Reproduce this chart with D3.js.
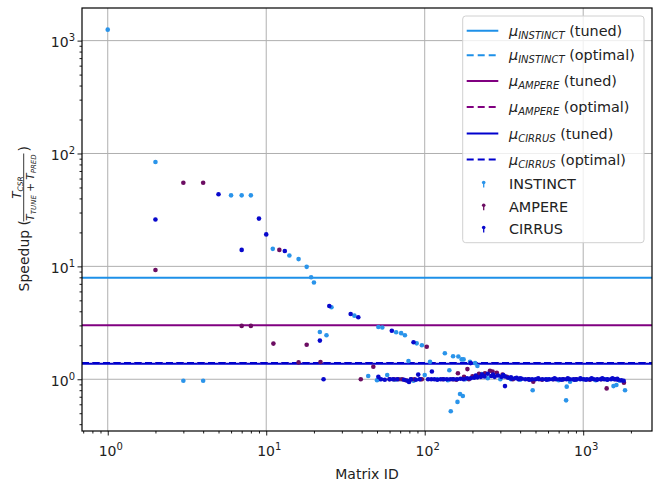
<!DOCTYPE html>
<html><head><meta charset="utf-8">
<script src="https://cdn.jsdelivr.net/npm/d3@7"></script>
<style>body{margin:0;background:#fff}svg{display:block;font-family:"DejaVu Sans",sans-serif}</style>
</head><body><svg id="c" width="660" height="483"></svg>
<script>
// ---- data ----
const gpus = ["INSTINCT", "AMPERE", "CIRRUS"];
const meanTuned = [7.94, 3.01, 1.37];
const meanOptimal = [1.39, 1.39, 1.39];
const xMajor = [1, 10, 100, 1000];
const yMajor = [1, 10, 100, 1000];
const xLabel = "Matrix ID";

const instinctPts = [
 [1,1250],[2,84],[3,0.97],[4,0.97],[6,42.6],[7,42.6],[8,42.6],[11,14.3],[14,12.5],[16,11.6],[18,9.9],[19.2,8.0],[20,7.2],
 [21.8,2.62],[24,2.45],[25.8,4.35],[36,3.66],[51,2.9],[54,2.87],[66,2.61],[71,2.56],[75,2.45],[89,2.08],[96,2.0],
 [44,1.07],[50,0.98],[52,1.0],[58,1.09],[65,0.99],[70,1.0],[85,0.97],[79,1.45],[100,1.09],[108,1.43],[120,1.0],[134,1.7],[140,0.98],
 [143,1.2],[151,1.6],[163,1.59],[171,1.5],[176,1.5],[193,1.43],[208,1.39],[215,1.31],[146,0.52],[161,0.63],[167,0.74],[174,0.71],
 [180,1.0],[213,1.07],[229,1.11],[250,1.02],[300,1.0],[350,1.0],[400,0.99],[480,0.80],[600,1.0],[700,0.98],[780,0.65],[787,0.86],
 [826,0.95],[900,0.99],[1000,1.0],[1200,0.98],[1400,1.0],[1553,0.87],[1620,0.89],[1700,0.97],[1836,0.80]
];
const amperePts = [
 [2,9.3],[3,55],[4,55],[7,2.97],[8,2.97],[11.1,2.07],[12.1,14.0],[16,1.41],[18,2.02],[22,1.42],[39.5,1.0],[47.4,1.29],
 [60,1.0],[64,1.0],[68,1.0],[72,1.0],[76,0.98],[82,1.0],[86,1.0],[94,1.0],[96,1.0],[103,1.94],[130,1.0],[150,1.0],[158,0.99],
 [162,1.13],[177,1.05],[186,1.23],[190,1.0],[200,1.06],[220,1.12],[240,1.13],[258,1.19],[268,1.17],[285,1.14],[310,1.1],[330,1.05],
 [360,1.0],[450,1.0],[484,0.95],[550,0.99],[650,1.0],[750,1.0],[900,1.0],[1100,0.99],[1300,1.0],[1406,0.83],[1600,1.0],[1807,0.93]
];
const cirrusPts = [
 [2,26],[5,43.5],[7,14.0],[9,26.5],[10,19.2],[13.1,13.7],[21.8,2.2],[23,1.0],[25,4.46],[34.1,3.79],[38.1,3.54],[62,2.69],[85,2.13],
 [51,1.05],[79.6,0.946],[91,1.1],[111,1.17],[195,1.39],[321,0.87],
 [53,1.0],[56,0.99],[60,1.0],[63,1.0],[67,1.0],[74,0.99],[78,0.97],[82,1.0],[88,0.99],[93,1.0],[105,1.0],[110,1.0],[115,1.0],[120,0.99],
 [126,1.0],[132,1.0],[138,1.0],[145,1.0],[152,1.0],[160,1.0],[168,1.01],[176,1.0],[185,1.02],[195,1.02],[205,1.03],[210,1.08],[215,1.04],
 [226,1.05],[230,1.1],[238,1.06],[250,1.12],[263,1.07],[270,1.1],[276,1.05],[290,1.08],[305,1.05],[313,1.09],[320,1.06],[336,1.03],
 [350,1.04],[353,1.01],[371,1.02],[380,1.03],[390,1.0],[410,1.01],[431,1.0],[453,1.0],[476,1.0],[500,1.0],[526,1.0],[553,1.0],
 [581,1.0],[611,1.0],[642,1.0],[675,1.0],[710,1.0],[746,1.0],[784,1.0],[824,1.0],[866,1.0],[910,1.0],[957,1.0],[1006,1.0],
 [1057,1.0],[1111,1.0],[1168,1.0],[1228,1.0],[1290,1.0],[1356,1.0],[1425,1.0],[1498,1.0],[1575,1.0],[1655,0.99],[1740,0.98],[1800,0.97],
 [400,1.02],[460,0.99],[520,1.02],[590,0.99],[660,1.02],[730,0.99],[800,1.02],[880,0.99],[960,1.02],[1040,0.99],[1130,1.02],
 [1220,0.99],[1320,1.02],[1420,0.99],[1530,1.02],[1640,1.01]
];

// ---- styles ----
const lineColors = ["#1e90e8", "#800080", "#0000cd"];
const dotColors = ["#2a94ea", "#6c0d62", "#0808cc"];

const svg = d3.select("#c");
const L = 82, R = 652, T = 8, B = 431;
const x = d3.scaleLog().domain([0.688, 2717]).range([L, R]);
const y = d3.scaleLog().domain([0.348, 1945]).range([B, T]);

// grid
const g = svg.append("g");
g.selectAll(".gx").data(xMajor).enter().append("line")
 .attr("x1", d => x(d)).attr("x2", d => x(d)).attr("y1", T).attr("y2", B)
 .attr("stroke", "#b0b0b0").attr("stroke-width", 1);
g.selectAll(".gy").data(yMajor).enter().append("line")
 .attr("y1", d => y(d)).attr("y2", d => y(d)).attr("x1", L).attr("x2", R)
 .attr("stroke", "#b0b0b0").attr("stroke-width", 1);

// mean lines: tuned (solid) and optimal (dashed)
const order = [0, 1, 2];
order.forEach(i => {
  svg.append("line").attr("x1", L).attr("x2", R)
   .attr("y1", y(meanTuned[i])).attr("y2", y(meanTuned[i]))
   .attr("stroke", lineColors[i]).attr("stroke-width", 2);
});
order.forEach(i => {
  svg.append("line").attr("x1", L).attr("x2", R)
   .attr("y1", y(meanOptimal[i])).attr("y2", y(meanOptimal[i]))
   .attr("stroke", lineColors[i]).attr("stroke-width", 2).attr("stroke-dasharray", "7,3.5");
});

// scatter
const series = [instinctPts, amperePts, cirrusPts];
series.forEach((pts, i) => {
  svg.append("g").selectAll("circle").data(pts).enter().append("circle")
   .attr("cx", d => x(d[0])).attr("cy", d => y(d[1])).attr("r", 2.3)
   .attr("fill", dotColors[i]);
});

// axes
const xAxis = d3.axisBottom(x).tickValues(xMajor).tickSize(4.5).tickFormat("");
const xMinor = d3.axisBottom(x).tickValues(x.ticks().filter(v => !xMajor.includes(v))).tickSize(2.5).tickFormat("");
const yAxis = d3.axisLeft(y).tickValues(yMajor).tickSize(4.5).tickFormat("");
const yMinor = d3.axisLeft(y).tickValues(y.ticks().filter(v => !yMajor.some(m => Math.abs(m - v) < 1e-9))).tickSize(2.5).tickFormat("");
[[xAxis, `translate(0,${B})`], [xMinor, `translate(0,${B})`], [yAxis, `translate(${L},0)`], [yMinor, `translate(${L},0)`]].forEach(([a, t]) => {
  const ag = svg.append("g").attr("transform", t).call(a);
  ag.select(".domain").remove();
  ag.selectAll("line").attr("stroke", "#000").attr("stroke-width", 0.9);
});
svg.append("rect").attr("x", L).attr("y", T).attr("width", R - L).attr("height", B - T)
 .attr("fill", "none").attr("stroke", "#000").attr("stroke-width", 1.2);

// tick labels
function powLabel(sel, e) {
  sel.append("tspan").text("10");
  sel.append("tspan").attr("font-size", 10).attr("dy", -6).text(String(e));
}
xMajor.forEach(v => {
  const t = svg.append("text").attr("x", x(v) + 3).attr("y", 455.5).attr("text-anchor", "middle")
   .attr("font-size", 14).attr("fill", "#222");
  powLabel(t, Math.round(Math.log10(v)));
});
yMajor.forEach(v => {
  const t = svg.append("text").attr("x", 75).attr("y", y(v) + 6.5).attr("text-anchor", "end")
   .attr("font-size", 14).attr("fill", "#222");
  powLabel(t, Math.round(Math.log10(v)));
});

// axis labels
svg.append("text").attr("x", (L + R) / 2).attr("y", 479).attr("text-anchor", "middle")
 .attr("font-size", 14).attr("fill", "#222").text(xLabel);

const yl = svg.append("g").attr("transform", "translate(28.5,291.5) rotate(-90)").attr("fill", "#222");
yl.append("text").attr("x", 0).attr("y", 0).attr("font-size", 14).text("Speedup (");
const fx = 70;
const num = yl.append("text").attr("x", fx + 34).attr("y", -7.5).attr("text-anchor", "middle").attr("font-size", 12);
num.append("tspan").attr("font-style", "italic").text("T");
num.append("tspan").attr("font-style", "italic").attr("font-size", 7.5).attr("dy", 2).text("CSR");
yl.append("line").attr("x1", fx).attr("x2", fx + 68).attr("y1", -4.8).attr("y2", -4.8).attr("stroke", "#222").attr("stroke-width", 0.9);
const den = yl.append("text").attr("x", fx + 34).attr("y", 5).attr("text-anchor", "middle").attr("font-size", 10.5);
den.append("tspan").attr("font-style", "italic").text("T");
den.append("tspan").attr("font-style", "italic").attr("font-size", 7).attr("dy", 2).text("TUNE");
den.append("tspan").attr("dy", -2).text(" + ");
den.append("tspan").attr("font-style", "italic").text("T");
den.append("tspan").attr("font-style", "italic").attr("font-size", 7).attr("dy", 2).text("PRED");
yl.append("text").attr("x", fx + 70).attr("y", 0).attr("font-size", 14).text(")");

// legend
const lg = svg.append("g");
lg.append("rect").attr("x", 462.7).attr("y", 16).attr("width", 181.3).attr("height", 226.7).attr("rx", 3)
 .attr("fill", "#fff").attr("fill-opacity", 0.8).attr("stroke", "#d0d0d0").attr("stroke-width", 1);
const rowsY = [30.7, 55.2, 81, 107, 133.5, 159.5, 184, 206.7, 229];
const legendLines = [];
gpus.forEach((gname, i) => {
  legendLines.push({ i, name: gname, kind: "tuned", dashed: false });
  legendLines.push({ i, name: gname, kind: "optimal", dashed: true });
});
legendLines.forEach((d, k) => {
  const cy = rowsY[k];
  lg.append("line").attr("x1", 466.7).attr("x2", 498.3).attr("y1", cy).attr("y2", cy)
   .attr("stroke", lineColors[d.i]).attr("stroke-width", 2).attr("stroke-dasharray", d.dashed ? "7,4" : null);
  const t = lg.append("text").attr("x", 509).attr("y", cy + 5).attr("font-size", 14.4).attr("fill", "#222");
  t.append("tspan").attr("font-style", "italic").text("μ");
  t.append("tspan").attr("font-style", "italic").attr("font-size", 10).attr("dy", 3).text(d.name);
  t.append("tspan").attr("dy", -3).text(" (" + d.kind + ")");
});
gpus.forEach((gname, i) => {
  const cy = rowsY[6 + i];
  lg.append("line").attr("x1", 483.7).attr("x2", 483.7).attr("y1", cy - 1).attr("y2", cy + 3.5)
   .attr("stroke", dotColors[i]).attr("stroke-width", 1.3);
  lg.append("circle").attr("cx", 483.7).attr("cy", cy - 1.5).attr("r", 1.8).attr("fill", dotColors[i]);
  lg.append("text").attr("x", 509).attr("y", cy + 5).attr("font-size", 14.4).attr("fill", "#222").text(gname);
});
</script></body></html>
